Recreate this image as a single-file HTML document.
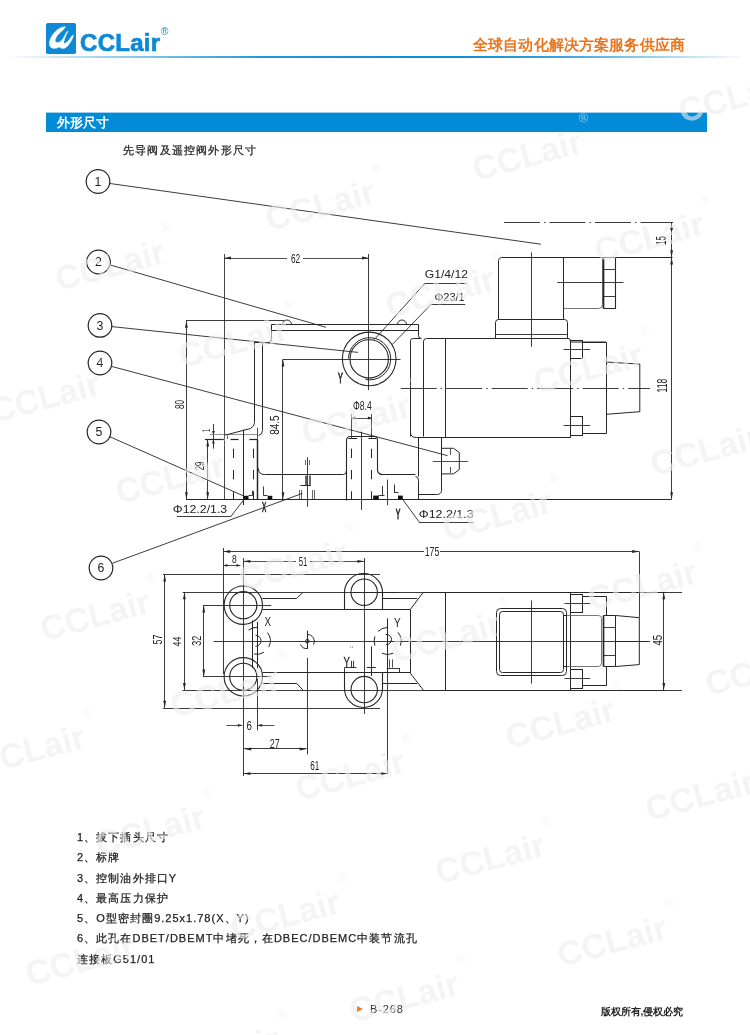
<!DOCTYPE html>
<html><head><meta charset="utf-8"><title>CCLair B-268</title>
<style>
html,body{margin:0;padding:0;background:#fff;}
body{width:750px;height:1035px;position:relative;overflow:hidden;font-family:"Liberation Sans",sans-serif;color:#333;}
.abs{position:absolute;white-space:nowrap;}
.logo{left:46.3px;top:23.1px;width:29.6px;height:30.9px;background:#0e89d6;border-radius:1.8px;}
.brand{left:79.5px;top:29px;font-size:24px;font-weight:bold;color:#0e89d6;letter-spacing:0.3px;line-height:28px;-webkit-text-stroke:0.7px #0e89d6;}
.reg{left:160.5px;top:25.5px;font-size:10px;color:#0e89d6;line-height:12px;}
.hline{left:4px;top:56px;width:744px;height:2px;background:linear-gradient(to right,rgba(10,140,215,0) 0%,rgba(10,140,215,0.35) 12%,rgba(10,140,215,0.9) 35%,rgba(10,140,215,1) 60%,rgba(10,140,215,0.8) 75%,rgba(10,140,215,0) 100%);}
.slogan{left:473px;top:36px;font-size:15px;font-weight:bold;color:#e8761e;letter-spacing:0.05px;line-height:17px;}
.bar{left:46px;top:112.6px;width:660.5px;height:19.4px;background:#038bd8;box-shadow:0 -1px 0 rgba(3,139,216,0.4);}
.bartxt{left:56.5px;top:115px;font-size:13px;font-weight:bold;color:#fff;line-height:16px;}
.sub{left:122.5px;top:143px;font-size:11px;color:#222;-webkit-text-stroke:0.25px #222;letter-spacing:1.2px;line-height:14px;}
.notes{left:76.5px;top:826.7px;font-size:11px;color:#222;-webkit-text-stroke:0.25px #222;line-height:20.25px;letter-spacing:1px;}
.notes div{height:20.25px;}
.pg{left:370.4px;top:1003px;font-size:11px;color:#333;line-height:12px;letter-spacing:0.9px;}
.tri{left:356.5px;top:1005.5px;width:0;height:0;border-left:6px solid #f07b1f;border-top:3.5px solid transparent;border-bottom:3.5px solid transparent;}
.copy{left:601px;top:1004.5px;font-size:10px;font-weight:bold;color:#222;line-height:13px;letter-spacing:-0.1px;}
.cj{display:inline-block;font-style:normal;text-align:center;}
svg{position:absolute;left:0;top:0;}
#drw,#wm{will-change:transform;}
.abs{will-change:transform;}
</style></head>
<body>

<div class="abs logo"><svg width="30" height="31" viewBox="0 0 30 31"><path fill="#fff" stroke="#fff" stroke-width="0.4" stroke-linejoin="round" d="M19.6,3.4 L15.2,4.4 L11.2,6.8 L7.6,10.4 L4.8,14.8 L3.4,18.8 L3.6,22.4 L5.2,24.8 L8,25.6 L11.2,25 L13.2,24 L13.8,24.4 L16,25.6 L18.8,25.2 L22,22.8 L24.8,18.8 L26.8,14.8 L27.6,12 L25.6,13.2 L23.2,16.8 L20.4,19.6 L18.6,20.4 L17.8,19.4 L18.6,16 L20.4,11.6 L22,8.2 L21,8.6 L19,12 L17,15.6 L14.4,18.6 L11.6,19.6 L9.4,19 L9.2,16.8 L10.8,13.2 L13.6,10 L17.2,7 Z"/></svg></div>
<div class="abs brand">CCLair</div>
<div class="abs reg">&reg;</div>
<div class="abs slogan"><i class="cj" style="width:15.15px">全</i><i class="cj" style="width:15.15px">球</i><i class="cj" style="width:15.15px">自</i><i class="cj" style="width:15.15px">动</i><i class="cj" style="width:15.15px">化</i><i class="cj" style="width:15.15px">解</i><i class="cj" style="width:15.15px">决</i><i class="cj" style="width:15.15px">方</i><i class="cj" style="width:15.15px">案</i><i class="cj" style="width:15.15px">服</i><i class="cj" style="width:15.15px">务</i><i class="cj" style="width:15.15px">供</i><i class="cj" style="width:15.15px">应</i><i class="cj" style="width:15.15px">商</i></div>
<div class="abs hline"></div>

<div class="abs bar"></div>
<div class="abs bartxt"><i class="cj" style="width:13.05px">外</i><i class="cj" style="width:13.05px">形</i><i class="cj" style="width:13.05px">尺</i><i class="cj" style="width:13.05px">寸</i></div>
<div class="abs sub"><i class="cj" style="width:12.2px">先</i><i class="cj" style="width:12.2px">导</i><i class="cj" style="width:12.2px">阀</i><i class="cj" style="width:12.2px">及</i><i class="cj" style="width:12.2px">遥</i><i class="cj" style="width:12.2px">控</i><i class="cj" style="width:12.2px">阀</i><i class="cj" style="width:12.2px">外</i><i class="cj" style="width:12.2px">形</i><i class="cj" style="width:12.2px">尺</i><i class="cj" style="width:12.2px">寸</i></div>

<svg id="drw" width="750" height="1035" viewBox="0 0 750 1035">
<circle cx="98" cy="181.5" r="11.8" fill="none" stroke="#262626" stroke-width="1.2"/>
<text x="98" y="185.8" font-size="12.3" text-anchor="middle" fill="#222" font-family="Liberation Sans" font-weight="normal">1</text>
<circle cx="98.5" cy="262" r="11.8" fill="none" stroke="#262626" stroke-width="1.2"/>
<text x="98.5" y="266.3" font-size="12.3" text-anchor="middle" fill="#222" font-family="Liberation Sans" font-weight="normal">2</text>
<circle cx="100" cy="325.4" r="11.8" fill="none" stroke="#262626" stroke-width="1.2"/>
<text x="100" y="329.7" font-size="12.3" text-anchor="middle" fill="#222" font-family="Liberation Sans" font-weight="normal">3</text>
<circle cx="100" cy="363" r="11.8" fill="none" stroke="#262626" stroke-width="1.2"/>
<text x="100" y="367.3" font-size="12.3" text-anchor="middle" fill="#222" font-family="Liberation Sans" font-weight="normal">4</text>
<circle cx="99" cy="432" r="11.8" fill="none" stroke="#262626" stroke-width="1.2"/>
<text x="99" y="436.3" font-size="12.3" text-anchor="middle" fill="#222" font-family="Liberation Sans" font-weight="normal">5</text>
<circle cx="101" cy="568" r="11.8" fill="none" stroke="#262626" stroke-width="1.2"/>
<text x="101" y="572.3" font-size="12.3" text-anchor="middle" fill="#222" font-family="Liberation Sans" font-weight="normal">6</text>
<line x1="110" y1="183.5" x2="540.8" y2="244.2" stroke="#262626" stroke-width="0.9"/>
<line x1="110.3" y1="265" x2="326" y2="327.3" stroke="#262626" stroke-width="0.9"/>
<line x1="111.8" y1="326.6" x2="358" y2="352.4" stroke="#262626" stroke-width="0.9"/>
<line x1="111.5" y1="366.4" x2="447.6" y2="455.7" stroke="#262626" stroke-width="0.9"/>
<line x1="109.5" y1="436.6" x2="243.7" y2="496" stroke="#262626" stroke-width="0.9"/>
<line x1="112.3" y1="563.3" x2="302.6" y2="493.3" stroke="#262626" stroke-width="0.9"/>
<line x1="186" y1="499.5" x2="671.5" y2="499.5" stroke="#262626" stroke-width="1.2"/>
<line x1="224" y1="258.5" x2="287" y2="258.5" stroke="#262626" stroke-width="0.8"/>
<line x1="303" y1="258.5" x2="369" y2="258.5" stroke="#262626" stroke-width="0.8"/>
<polygon points="224,258 231.00,256.60 231.00,259.40" fill="#262626"/>
<polygon points="369,258 362.00,259.40 362.00,256.60" fill="#262626"/>
<text x="295.6" y="262.7" font-size="12.4" text-anchor="middle" fill="#222" font-family="Liberation Sans" font-weight="normal" textLength="9.3" lengthAdjust="spacingAndGlyphs">62</text>
<line x1="224.5" y1="254" x2="224.5" y2="500" stroke="#333" stroke-width="0.9"/>
<line x1="368.5" y1="254" x2="368.5" y2="390" stroke="#262626" stroke-width="0.9"/>
<line x1="186" y1="320.5" x2="284" y2="320.5" stroke="#262626" stroke-width="0.9"/>
<line x1="186.5" y1="320.8" x2="186.5" y2="499.3" stroke="#262626" stroke-width="0.9"/>
<polygon points="186.4,320.8 187.80,327.80 185.00,327.80" fill="#262626"/>
<polygon points="186.4,499.3 185.00,492.30 187.80,492.30" fill="#262626"/>
<text x="184.1" y="404.6" font-size="13" text-anchor="middle" fill="#222" font-family="Liberation Sans" font-weight="normal" textLength="9" lengthAdjust="spacingAndGlyphs" transform="rotate(-90 184.1 404.6)">80</text>
<line x1="283" y1="359.5" x2="400.5" y2="359.5" stroke="#262626" stroke-width="0.9"/>
<line x1="282.5" y1="359.4" x2="282.5" y2="499.3" stroke="#262626" stroke-width="0.9"/>
<polygon points="283,359.4 284.40,366.40 281.60,366.40" fill="#262626"/>
<polygon points="283,499.3 281.60,492.30 284.40,492.30" fill="#262626"/>
<text x="278.9" y="425.1" font-size="13" text-anchor="middle" fill="#222" font-family="Liberation Sans" font-weight="normal" textLength="19.5" lengthAdjust="spacingAndGlyphs" transform="rotate(-90 278.9 425.1)">84.5</text>
<line x1="207.5" y1="439.6" x2="207.5" y2="499.3" stroke="#262626" stroke-width="0.9"/>
<polygon points="207.7,439.6 209.10,446.60 206.30,446.60" fill="#262626"/>
<polygon points="207.7,499.3 206.30,492.30 209.10,492.30" fill="#262626"/>
<text x="204.3" y="466" font-size="13" text-anchor="middle" fill="#222" font-family="Liberation Sans" font-weight="normal" textLength="8.7" lengthAdjust="spacingAndGlyphs" transform="rotate(-90 204.3 466)">29</text>
<line x1="213.5" y1="424" x2="213.5" y2="448.7" stroke="#262626" stroke-width="0.9"/>
<polygon points="213.4,435 212.00,431.00 214.80,431.00" fill="#262626"/>
<polygon points="213.4,439.4 214.80,443.40 212.00,443.40" fill="#262626"/>
<text x="210" y="430.5" font-size="10.5" text-anchor="middle" fill="#222" font-family="Liberation Sans" font-weight="normal" textLength="3" lengthAdjust="spacingAndGlyphs" transform="rotate(-90 210 430.5)">1</text>
<line x1="210" y1="434.5" x2="257.4" y2="434.5" stroke="#777" stroke-width="0.8"/>
<line x1="205" y1="439.5" x2="225" y2="439.5" stroke="#262626" stroke-width="1.2"/>
<line x1="230.2" y1="439.5" x2="238.6" y2="439.5" stroke="#262626" stroke-width="1.2"/>
<line x1="249.4" y1="439.5" x2="257.4" y2="439.5" stroke="#262626" stroke-width="1.2"/>
<path d="M 254.5,342.5 L 254.5,422.5 Q 254.5,426.5 250.5,428.5 L 227.5,434.5 Q 224.5,434.5 224.5,435.5" fill="none" stroke="#262626" stroke-width="1.0"/>
<line x1="227.5" y1="435.4" x2="227.5" y2="439" stroke="#262626" stroke-width="0.9"/>
<line x1="243.5" y1="429.6" x2="243.5" y2="505" stroke="#262626" stroke-width="1.0"/>
<line x1="257.5" y1="427.8" x2="257.5" y2="439.4" stroke="#262626" stroke-width="0.8"/>
<line x1="257.5" y1="439.4" x2="257.5" y2="499.6" stroke="#262626" stroke-width="1.5"/>
<path d="M 262.5,342.5 L 262.5,430.5 Q 262.5,434.5 258.5,435.5" fill="none" stroke="#262626" stroke-width="1.0"/>
<line x1="254.4" y1="342.5" x2="269" y2="342.5" stroke="#262626" stroke-width="1.0"/>
<line x1="233.5" y1="448.7" x2="233.5" y2="500" stroke="#262626" stroke-width="1.0" stroke-dasharray="9.3 12"/>
<line x1="253.5" y1="448.7" x2="253.5" y2="500" stroke="#262626" stroke-width="1.0" stroke-dasharray="9.3 12"/>
<path d="M 258.5,468.5 Q 258.5,474.5 264.5,474.5 L 343.5,474.5 Q 346.5,474.5 346.5,470.5" fill="none" stroke="#262626" stroke-width="1.0"/>
<path d="M 268.5,342.5 Q 271.5,342.5 271.5,338.5 L 271.5,324.5 L 418.5,324.5 L 418.5,335.5 Q 418.5,338.5 421.5,338.5" fill="none" stroke="#262626" stroke-width="1.0"/>
<line x1="272" y1="330.5" x2="418.5" y2="330.5" stroke="#262626" stroke-width="1.0"/>
<path d="M 282.5,324.5 A 4.5,4.5 0 0 1 291.5,324.5" fill="none" stroke="#262626" stroke-width="1.0"/>
<path d="M 397.5,324.5 A 4.5,4.5 0 0 1 406.5,324.5" fill="none" stroke="#262626" stroke-width="1.0"/>
<circle cx="369.2" cy="358.9" r="26.8" fill="none" stroke="#262626" stroke-width="1.1"/>
<circle cx="369.2" cy="358.9" r="19.2" fill="none" stroke="#262626" stroke-width="1.1"/>
<path d="M 365.5,379.5 A 21.1,21.1 0 1 0 348.5,358.5" fill="none" stroke="#262626" stroke-width="1.0"/>
<text x="340.4" y="382.6" font-size="15" text-anchor="middle" fill="#222" font-family="Liberation Sans" font-weight="normal" stroke="#222" stroke-width="0.9" textLength="4.8" lengthAdjust="spacingAndGlyphs">Y</text>
<text x="424.8" y="277.6" font-size="11.4" text-anchor="start" fill="#222" font-family="Liberation Sans" font-weight="normal" textLength="43.2" lengthAdjust="spacingAndGlyphs">G1/4/12</text>
<line x1="424.8" y1="283.5" x2="466.4" y2="283.5" stroke="#262626" stroke-width="0.9"/>
<line x1="424.8" y1="283.5" x2="374.3" y2="339.6" stroke="#262626" stroke-width="0.9"/>
<text x="434.4" y="300.5" font-size="11.4" text-anchor="start" fill="#222" font-family="Liberation Sans" font-weight="normal" textLength="30.4" lengthAdjust="spacingAndGlyphs">Φ23/1</text>
<line x1="430.4" y1="304.5" x2="465.3" y2="304.5" stroke="#262626" stroke-width="0.9"/>
<line x1="430.4" y1="305" x2="392.4" y2="344.4" stroke="#262626" stroke-width="0.9"/>
<path d="M 346.5,500.5 L 346.5,440.5 Q 346.5,436.5 350.5,436.5 L 374.5,436.5 Q 377.5,436.5 377.5,440.5 L 377.5,470.5 Q 378.5,474.5 382.5,474.5 L 415.5,474.5" fill="none" stroke="#262626" stroke-width="1.1"/>
<line x1="348.4" y1="438.5" x2="357.2" y2="438.5" stroke="#262626" stroke-width="1.0"/>
<line x1="368.4" y1="438.5" x2="376.4" y2="438.5" stroke="#262626" stroke-width="1.0"/>
<line x1="351.5" y1="448.7" x2="351.5" y2="500" stroke="#262626" stroke-width="1.0" stroke-dasharray="9.3 12"/>
<line x1="371.5" y1="448.7" x2="371.5" y2="500" stroke="#262626" stroke-width="1.0" stroke-dasharray="9.3 12"/>
<line x1="361.5" y1="431.6" x2="361.5" y2="510" stroke="#262626" stroke-width="0.9"/>
<text x="362.3" y="410.4" font-size="12" text-anchor="middle" fill="#222" font-family="Liberation Sans" font-weight="normal" textLength="18.7" lengthAdjust="spacingAndGlyphs">Φ8.4</text>
<line x1="351.5" y1="414" x2="351.5" y2="438" stroke="#262626" stroke-width="0.8"/>
<line x1="371.5" y1="414" x2="371.5" y2="438" stroke="#262626" stroke-width="0.8"/>
<line x1="351.6" y1="418.5" x2="371.9" y2="418.5" stroke="#262626" stroke-width="0.8"/>
<polygon points="371.9,418 367.90,419.40 367.90,416.60" fill="#262626"/>
<polygon points="351.6,418 355.60,416.60 355.60,419.40" fill="#262626"/>
<path d="M 415.5,476.5 Q 418.5,476.5 418.5,480.5 L 418.5,499.5" fill="none" stroke="#262626" stroke-width="1.0"/>
<path d="M 418.5,437.5 L 418.5,476.5 M 418.5,437.5 L 441.5,437.5 L 441.5,490.5 Q 441.5,494.5 436.5,494.5 L 418.5,494.5" fill="none" stroke="#262626" stroke-width="1.0"/>
<polyline points="441.2,448.3 453.5,448.3 459.3,452.5 459.3,469.6 453.5,473.9 441.2,473.9" fill="none" stroke="#262626" stroke-width="1.0"/>
<line x1="450.5" y1="449" x2="450.5" y2="455" stroke="#262626" stroke-width="0.8"/>
<line x1="450.5" y1="467" x2="450.5" y2="473" stroke="#262626" stroke-width="0.8"/>
<line x1="432.7" y1="461.5" x2="467.9" y2="461.5" stroke="#262626" stroke-width="0.8"/>
<path d="M 410.5,436.5 L 410.5,340.5 Q 410.5,338.5 413.5,338.5 L 420.5,338.5" fill="none" stroke="#262626" stroke-width="1.0"/>
<path d="M 423.5,436.5 L 423.5,341.5 Q 423.5,338.5 426.5,338.5 L 569.5,338.5" fill="none" stroke="#262626" stroke-width="1.0"/>
<line x1="445.5" y1="339" x2="445.5" y2="437.6" stroke="#262626" stroke-width="1.0"/>
<path d="M 410.5,432.5 Q 410.5,437.5 416.5,437.5 L 570.5,437.5" fill="none" stroke="#262626" stroke-width="1.0"/>
<line x1="570.5" y1="339.6" x2="570.5" y2="437.7" stroke="#262626" stroke-width="1.0"/>
<line x1="400.7" y1="388.5" x2="650" y2="388.5" stroke="#262626" stroke-width="0.9" stroke-dasharray="36 4 1.5 4"/>
<rect x="570.5" y="340.5" width="12.0" height="18.0" rx="0" fill="none" stroke="#262626" stroke-width="1.0"/>
<line x1="563.5" y1="349.5" x2="590.1" y2="349.5" stroke="#262626" stroke-width="0.9"/>
<rect x="570.5" y="416.5" width="12.0" height="19.0" rx="0" fill="none" stroke="#262626" stroke-width="1.0"/>
<line x1="563.5" y1="425.5" x2="590.1" y2="425.5" stroke="#262626" stroke-width="0.9"/>
<polyline points="582.5,342.5 606.5,342.5 606.5,433.5 582.5,433.5" fill="none" stroke="#262626" stroke-width="1.0"/>
<polyline points="606.1,362 639.8,364.1 639.8,411.7 606.1,414.3" fill="none" stroke="#262626" stroke-width="1.0"/>
<path d="M 498.5,319.5 L 498.5,260.5 Q 498.5,257.5 501.5,257.5 L 672.5,257.5" fill="none" stroke="#262626" stroke-width="1.0"/>
<line x1="563.5" y1="257.3" x2="563.5" y2="319.6" stroke="#262626" stroke-width="1.0"/>
<path d="M 563.5,308.5 L 598.5,308.5 Q 602.5,308.5 602.5,304.5 L 602.5,257.5" fill="none" stroke="#666" stroke-width="0.9"/>
<line x1="603.5" y1="257.3" x2="603.5" y2="308.7" stroke="#262626" stroke-width="1.7"/>
<line x1="615.5" y1="257.3" x2="615.5" y2="308.7" stroke="#262626" stroke-width="1.1"/>
<line x1="603.5" y1="308.5" x2="615.6" y2="308.5" stroke="#262626" stroke-width="1.0"/>
<line x1="603.5" y1="269.5" x2="615.6" y2="269.5" stroke="#262626" stroke-width="0.9"/>
<line x1="603.5" y1="296.5" x2="615.6" y2="296.5" stroke="#262626" stroke-width="0.9"/>
<line x1="557.2" y1="282.5" x2="623.5" y2="282.5" stroke="#262626" stroke-width="0.9"/>
<line x1="531.5" y1="252.4" x2="531.5" y2="346.9" stroke="#262626" stroke-width="0.9"/>
<path d="M 495.5,338.5 L 495.5,322.5 Q 495.5,319.5 498.5,319.5 L 564.5,319.5 Q 567.5,319.5 567.5,322.5 L 567.5,338.5" fill="none" stroke="#262626" stroke-width="1.0"/>
<line x1="495.4" y1="334.5" x2="567.5" y2="334.5" stroke="#262626" stroke-width="0.9"/>
<polyline points="569.6,339.2 570.7,342 605.9,342 605.9,343" fill="none" stroke="#262626" stroke-width="1.0"/>
<line x1="504" y1="222.5" x2="673" y2="222.5" stroke="#262626" stroke-width="0.9" stroke-dasharray="36 4 1.5 4"/>
<line x1="671.5" y1="223" x2="671.5" y2="257.3" stroke="#262626" stroke-width="0.9"/>
<polygon points="671.6,223 673.00,230.00 670.20,230.00" fill="#262626"/>
<polygon points="671.6,257.3 670.20,250.30 673.00,250.30" fill="#262626"/>
<text x="666" y="240.6" font-size="13.8" text-anchor="middle" fill="#222" font-family="Liberation Sans" font-weight="normal" textLength="8.8" lengthAdjust="spacingAndGlyphs" transform="rotate(-90 666 240.6)">15</text>
<line x1="671.5" y1="257.6" x2="671.5" y2="499.3" stroke="#262626" stroke-width="0.9"/>
<polygon points="671.6,257.6 673.00,264.60 670.20,264.60" fill="#262626"/>
<polygon points="671.6,499.3 670.20,492.30 673.00,492.30" fill="#262626"/>
<text x="667.2" y="385.6" font-size="14" text-anchor="middle" fill="#222" font-family="Liberation Sans" font-weight="normal" textLength="13.6" lengthAdjust="spacingAndGlyphs" transform="rotate(-90 667.2 385.6)">118</text>
<rect x="243.7" y="495.8" width="4.8" height="4" fill="#111"/>
<rect x="267.7" y="495.8" width="4.6" height="4" fill="#111"/>
<polyline points="248.5,495.5 252.5,495.5 252.5,490.5" fill="none" stroke="#262626" stroke-width="0.9"/>
<polyline points="263.5,486.5 263.5,495.5 267.5,495.5" fill="none" stroke="#262626" stroke-width="0.9"/>
<rect x="373.2" y="495.6" width="5.6" height="4.2" fill="#111"/>
<polyline points="378.5,495.5 384.5,495.5" fill="none" stroke="#262626" stroke-width="0.9"/>
<line x1="382.5" y1="486" x2="382.5" y2="495.6" stroke="#262626" stroke-width="0.9"/>
<rect x="398" y="495.6" width="4.8" height="4.2" fill="#111"/>
<polyline points="394.5,486.5 394.5,492.5 398.5,492.5" fill="none" stroke="#262626" stroke-width="0.9"/>
<line x1="387.5" y1="479.6" x2="387.5" y2="505.2" stroke="#262626" stroke-width="0.9"/>
<line x1="307.5" y1="457.2" x2="307.5" y2="506.8" stroke="#262626" stroke-width="0.9"/>
<line x1="300.4" y1="485.5" x2="310.8" y2="485.5" stroke="#262626" stroke-width="1.0"/>
<line x1="305.5" y1="475.6" x2="305.5" y2="485.2" stroke="#262626" stroke-width="0.7"/>
<line x1="306.5" y1="475.6" x2="306.5" y2="485.2" stroke="#262626" stroke-width="0.7"/>
<line x1="309.5" y1="475.6" x2="309.5" y2="485.2" stroke="#262626" stroke-width="0.7"/>
<line x1="310.5" y1="475.6" x2="310.5" y2="485.2" stroke="#262626" stroke-width="0.7"/>
<line x1="305.5" y1="460" x2="305.5" y2="465" stroke="#262626" stroke-width="0.7"/>
<line x1="309.5" y1="460" x2="309.5" y2="465" stroke="#262626" stroke-width="0.7"/>
<line x1="299.5" y1="490" x2="299.5" y2="499.6" stroke="#262626" stroke-width="0.7"/>
<line x1="301.5" y1="490" x2="301.5" y2="499.6" stroke="#262626" stroke-width="0.7"/>
<line x1="312.5" y1="490" x2="312.5" y2="499.6" stroke="#262626" stroke-width="0.7"/>
<line x1="314.5" y1="490" x2="314.5" y2="499.6" stroke="#262626" stroke-width="0.7"/>
<text x="172.8" y="512.6" font-size="10.5" text-anchor="start" fill="#222" font-family="Liberation Sans" font-weight="normal" textLength="54.4" lengthAdjust="spacingAndGlyphs">Φ12.2/1.3</text>
<line x1="177" y1="516.5" x2="230.5" y2="516.5" stroke="#262626" stroke-width="0.9"/>
<line x1="230.5" y1="516.9" x2="243.9" y2="499.6" stroke="#262626" stroke-width="0.9"/>
<text x="264.2" y="511.7" font-size="15" text-anchor="middle" fill="#222" font-family="Liberation Sans" font-weight="normal" stroke="#222" stroke-width="0.7" textLength="4.3" lengthAdjust="spacingAndGlyphs">X</text>
<text x="418.8" y="518.2" font-size="11" text-anchor="start" fill="#222" font-family="Liberation Sans" font-weight="normal" textLength="54.8" lengthAdjust="spacingAndGlyphs">Φ12.2/1.3</text>
<line x1="419.9" y1="522.5" x2="473.2" y2="522.5" stroke="#262626" stroke-width="0.9"/>
<line x1="419.9" y1="523" x2="402.8" y2="499.6" stroke="#262626" stroke-width="0.9"/>
<line x1="394.5" y1="484.5" x2="394.5" y2="493" stroke="#262626" stroke-width="0.9"/>
<text x="398" y="518.5" font-size="14" text-anchor="middle" fill="#222" font-family="Liberation Sans" font-weight="normal" stroke="#222" stroke-width="0.8" textLength="4.6" lengthAdjust="spacingAndGlyphs">Y</text>
<line x1="223.2" y1="551.5" x2="424" y2="551.5" stroke="#262626" stroke-width="0.9"/>
<line x1="440" y1="551.5" x2="639.2" y2="551.5" stroke="#262626" stroke-width="0.9"/>
<polygon points="223.2,551.5 230.20,550.10 230.20,552.90" fill="#262626"/>
<polygon points="639.2,551.5 632.20,552.90 632.20,550.10" fill="#262626"/>
<text x="432" y="555.7" font-size="12.4" text-anchor="middle" fill="#222" font-family="Liberation Sans" font-weight="normal" textLength="14.6" lengthAdjust="spacingAndGlyphs">175</text>
<line x1="639.5" y1="551.5" x2="639.5" y2="617.6" stroke="#262626" stroke-width="0.9"/>
<line x1="223.5" y1="548" x2="223.5" y2="674" stroke="#262626" stroke-width="0.9"/>
<line x1="223.4" y1="565.5" x2="240.5" y2="565.5" stroke="#262626" stroke-width="0.8"/>
<polygon points="223.4,565.4 227.40,564.00 227.40,566.80" fill="#262626"/>
<polygon points="240.5,565.4 236.50,566.80 236.50,564.00" fill="#262626"/>
<text x="234.3" y="563" font-size="10.5" text-anchor="middle" fill="#222" font-family="Liberation Sans" font-weight="normal" textLength="4.7" lengthAdjust="spacingAndGlyphs">8</text>
<line x1="243.3" y1="561.5" x2="296" y2="561.5" stroke="#262626" stroke-width="0.8"/>
<line x1="310" y1="561.5" x2="364.4" y2="561.5" stroke="#262626" stroke-width="0.8"/>
<polygon points="243.3,561.3 250.30,559.90 250.30,562.70" fill="#262626"/>
<polygon points="364.4,561.3 357.40,562.70 357.40,559.90" fill="#262626"/>
<text x="303" y="566.3" font-size="12.3" text-anchor="middle" fill="#222" font-family="Liberation Sans" font-weight="normal" textLength="8.6" lengthAdjust="spacingAndGlyphs">51</text>
<line x1="243.5" y1="558" x2="243.5" y2="776" stroke="#262626" stroke-width="0.9"/>
<line x1="364.5" y1="558" x2="364.5" y2="714" stroke="#262626" stroke-width="0.9"/>
<line x1="163" y1="574.5" x2="380" y2="574.5" stroke="#262626" stroke-width="0.9"/>
<line x1="163" y1="708.5" x2="380" y2="708.5" stroke="#262626" stroke-width="0.9"/>
<line x1="164.5" y1="574.4" x2="164.5" y2="707.8" stroke="#262626" stroke-width="0.9"/>
<polygon points="164.7,574.4 166.10,581.40 163.30,581.40" fill="#262626"/>
<polygon points="164.7,707.8 163.30,700.80 166.10,700.80" fill="#262626"/>
<text x="162.4" y="639.6" font-size="13.5" text-anchor="middle" fill="#222" font-family="Liberation Sans" font-weight="normal" textLength="10" lengthAdjust="spacingAndGlyphs" transform="rotate(-90 162.4 639.6)">57</text>
<line x1="182.5" y1="592.5" x2="682" y2="592.5" stroke="#262626" stroke-width="0.9"/>
<line x1="184.5" y1="592.2" x2="184.5" y2="690" stroke="#262626" stroke-width="0.9"/>
<polygon points="184.4,592.2 185.80,599.20 183.00,599.20" fill="#262626"/>
<polygon points="184.4,690 183.00,683.00 185.80,683.00" fill="#262626"/>
<text x="180.8" y="641.6" font-size="11.5" text-anchor="middle" fill="#222" font-family="Liberation Sans" font-weight="normal" textLength="10" lengthAdjust="spacingAndGlyphs" transform="rotate(-90 180.8 641.6)">44</text>
<line x1="182.5" y1="690.5" x2="682" y2="690.5" stroke="#262626" stroke-width="0.9"/>
<line x1="203" y1="605.5" x2="271.2" y2="605.5" stroke="#262626" stroke-width="0.9"/>
<line x1="203" y1="676.5" x2="271.2" y2="676.5" stroke="#262626" stroke-width="0.9"/>
<line x1="203.5" y1="605.4" x2="203.5" y2="676.6" stroke="#262626" stroke-width="0.9"/>
<polygon points="203.8,605.4 205.20,612.40 202.40,612.40" fill="#262626"/>
<polygon points="203.8,676.6 202.40,669.60 205.20,669.60" fill="#262626"/>
<text x="201.2" y="640.8" font-size="12.5" text-anchor="middle" fill="#222" font-family="Liberation Sans" font-weight="normal" textLength="10" lengthAdjust="spacingAndGlyphs" transform="rotate(-90 201.2 640.8)">32</text>
<circle cx="243.3" cy="605.2" r="19.2" fill="none" stroke="#262626" stroke-width="1.1"/>
<circle cx="243.3" cy="605.2" r="13.6" fill="none" stroke="#262626" stroke-width="1.1"/>
<circle cx="243.3" cy="676.8" r="19.2" fill="none" stroke="#262626" stroke-width="1.1"/>
<circle cx="243.3" cy="676.8" r="13.6" fill="none" stroke="#262626" stroke-width="1.1"/>
<path d="M 344.5,609.5 L 344.5,592.5 A 19,19 0 0 1 382.5,592.5 L 382.5,609.5" fill="none" stroke="#262626" stroke-width="1.1"/>
<circle cx="364.2" cy="592.2" r="13.2" fill="none" stroke="#262626" stroke-width="1.1"/>
<path d="M 344.5,672.5 L 344.5,688.5 A 19,19 0 0 0 382.5,688.5 L 382.5,672.5" fill="none" stroke="#262626" stroke-width="1.1"/>
<circle cx="364.2" cy="689.6" r="13.2" fill="none" stroke="#262626" stroke-width="1.1"/>
<line x1="350" y1="592.5" x2="398" y2="592.5" stroke="#262626" stroke-width="0.9"/>
<line x1="262.4" y1="598.5" x2="296.8" y2="598.5" stroke="#262626" stroke-width="1.0"/>
<line x1="296.8" y1="598.4" x2="303.2" y2="592" stroke="#262626" stroke-width="1.0"/>
<line x1="262.4" y1="683.5" x2="296.8" y2="683.5" stroke="#262626" stroke-width="1.0"/>
<line x1="296.8" y1="683.6" x2="303.2" y2="690.3" stroke="#262626" stroke-width="1.0"/>
<line x1="262.4" y1="609.5" x2="410" y2="609.5" stroke="#262626" stroke-width="1.0"/>
<line x1="262.4" y1="672.5" x2="410" y2="672.5" stroke="#262626" stroke-width="1.0"/>
<line x1="383" y1="598.5" x2="417.2" y2="598.5" stroke="#262626" stroke-width="1.0"/>
<line x1="383" y1="683.5" x2="417.2" y2="683.5" stroke="#262626" stroke-width="1.0"/>
<line x1="410" y1="609.8" x2="423.5" y2="592" stroke="#262626" stroke-width="1.0"/>
<line x1="410" y1="672.8" x2="423.5" y2="690.3" stroke="#262626" stroke-width="1.0"/>
<line x1="410.5" y1="609.8" x2="410.5" y2="672.8" stroke="#262626" stroke-width="1.0"/>
<line x1="445.5" y1="592" x2="445.5" y2="690.3" stroke="#262626" stroke-width="1.0"/>
<line x1="213.6" y1="641.5" x2="650" y2="641.5" stroke="#262626" stroke-width="0.9"/>
<line x1="252.5" y1="620.4" x2="252.5" y2="668" stroke="#262626" stroke-width="1.0"/>
<line x1="257.5" y1="622" x2="257.5" y2="668" stroke="#262626" stroke-width="1.0"/>
<path d="M255.50,635.30 A5.5,5.5 0 0 1 255.50,646.30" fill="none" stroke="#262626" stroke-width="1.0"/>
<path d="M248.49,630.16 A13.5,13.5 0 0 1 257.27,627.31" fill="none" stroke="#262626" stroke-width="1.0"/>
<path d="M267.44,632.49 A13.5,13.5 0 0 1 268.72,647.14" fill="none" stroke="#262626" stroke-width="1.0"/>
<path d="M263.95,652.25 A13.5,13.5 0 0 1 253.99,654.00" fill="none" stroke="#262626" stroke-width="1.0"/>
<text x="267.7" y="626" font-size="12.5" text-anchor="middle" fill="#222" font-family="Liberation Sans" font-weight="normal" textLength="6.5" lengthAdjust="spacingAndGlyphs">X</text>
<line x1="387.5" y1="618.4" x2="387.5" y2="668.8" stroke="#262626" stroke-width="1.0"/>
<path d="M385.63,634.58 A5,5 0 1 1 386.06,644.48" fill="none" stroke="#262626" stroke-width="1.0"/>
<path d="M378.05,631.45 A13.5,13.5 0 0 1 387.13,627.51" fill="none" stroke="#262626" stroke-width="1.0"/>
<path d="M397.94,632.32 A13.5,13.5 0 0 1 400.29,645.62" fill="none" stroke="#262626" stroke-width="1.0"/>
<path d="M374.91,645.62 A13.5,13.5 0 0 1 374.91,636.38" fill="none" stroke="#262626" stroke-width="1.0"/>
<path d="M393.31,653.24 A13.5,13.5 0 0 1 381.89,653.24" fill="none" stroke="#262626" stroke-width="1.0"/>
<text x="397.3" y="627.3" font-size="12.5" text-anchor="middle" fill="#222" font-family="Liberation Sans" font-weight="normal" textLength="6.7" lengthAdjust="spacingAndGlyphs">Y</text>
<rect x="387.5" y="668.5" width="12.0" height="4.0" rx="0" fill="none" stroke="#262626" stroke-width="0.9"/>
<line x1="389.5" y1="659.4" x2="389.5" y2="667.6" stroke="#262626" stroke-width="0.8"/>
<line x1="392.5" y1="659.4" x2="392.5" y2="667.6" stroke="#262626" stroke-width="0.8"/>
<text x="346.6" y="667" font-size="15" text-anchor="middle" fill="#222" font-family="Liberation Sans" font-weight="normal" stroke="#222" stroke-width="0.3" textLength="6.4" lengthAdjust="spacingAndGlyphs">Y</text>
<line x1="351.5" y1="660.8" x2="351.5" y2="667.2" stroke="#262626" stroke-width="0.9"/>
<line x1="353.5" y1="660.8" x2="353.5" y2="667.2" stroke="#262626" stroke-width="0.9"/>
<line x1="350.2" y1="667.5" x2="354.6" y2="667.5" stroke="#262626" stroke-width="0.9"/>
<polyline points="344.5,672.5 344.5,667.5 356.5,667.5" fill="none" stroke="#262626" stroke-width="0.9"/>
<rect x="350.2" y="646.6" width="0.9" height="0.9" fill="#444"/>
<rect x="352" y="646.6" width="0.9" height="0.9" fill="#444"/>
<line x1="371.5" y1="646.5" x2="371.5" y2="676" stroke="#262626" stroke-width="1.0"/>
<line x1="366.8" y1="667.5" x2="375.8" y2="667.5" stroke="#262626" stroke-width="1.0"/>
<line x1="307.5" y1="630.6" x2="307.5" y2="648.8" stroke="#262626" stroke-width="1.0"/>
<circle cx="307.3" cy="641.2" r="1.8" fill="none" stroke="#262626" stroke-width="1.0"/>
<path d="M 307.5,634.5 A 6.8,6.8 0 0 1 313.5,644.5 M 300.5,644.5 A 6.8,6.8 0 0 0 307.5,648.5" fill="none" stroke="#262626" stroke-width="1.0"/>
<line x1="307.5" y1="657.8" x2="307.5" y2="754.4" stroke="#262626" stroke-width="0.9"/>
<line x1="423.5" y1="592.5" x2="571" y2="592.5" stroke="#262626" stroke-width="1.1"/>
<line x1="423.5" y1="690.5" x2="571" y2="690.5" stroke="#262626" stroke-width="1.1"/>
<line x1="570.5" y1="592" x2="570.5" y2="690.3" stroke="#262626" stroke-width="1.0"/>
<line x1="571" y1="592.5" x2="665.9" y2="592.5" stroke="#262626" stroke-width="0.9"/>
<line x1="571" y1="690.5" x2="665.9" y2="690.5" stroke="#262626" stroke-width="0.9"/>
<rect x="496.5" y="608.5" width="70.0" height="67.0" rx="4" fill="none" stroke="#262626" stroke-width="1.0"/>
<rect x="499.5" y="611.5" width="64.0" height="61.0" rx="3" fill="none" stroke="#262626" stroke-width="1.0"/>
<line x1="531.5" y1="600.5" x2="531.5" y2="683.7" stroke="#262626" stroke-width="0.9"/>
<rect x="570.5" y="594.5" width="12.0" height="18.0" rx="0" fill="none" stroke="#262626" stroke-width="1.0"/>
<line x1="564.5" y1="603.5" x2="590.1" y2="603.5" stroke="#262626" stroke-width="0.9"/>
<rect x="570.5" y="669.5" width="12.0" height="19.0" rx="0" fill="none" stroke="#262626" stroke-width="1.0"/>
<line x1="564.5" y1="678.5" x2="590.1" y2="678.5" stroke="#262626" stroke-width="0.9"/>
<polyline points="582.5,596.5 606.5,596.5 606.5,615.5" fill="none" stroke="#262626" stroke-width="1.0"/>
<polyline points="582.5,685.5 606.5,685.5 606.5,666.5" fill="none" stroke="#262626" stroke-width="1.0"/>
<path d="M 566.5,615.5 L 598.5,615.5 Q 601.5,615.5 601.5,618.5 L 601.5,662.5 Q 601.5,666.5 598.5,666.5 L 566.5,666.5" fill="none" stroke="#666" stroke-width="0.9"/>
<line x1="563.5" y1="615.5" x2="566.7" y2="615.5" stroke="#262626" stroke-width="1.0"/>
<line x1="563.5" y1="666.5" x2="566.7" y2="666.5" stroke="#262626" stroke-width="1.0"/>
<line x1="603.5" y1="615.5" x2="603.5" y2="666.5" stroke="#262626" stroke-width="1.7"/>
<polyline points="603.5,615.5 615.5,615.5 615.5,666.5 603.5,666.5" fill="none" stroke="#262626" stroke-width="1.0"/>
<line x1="603.6" y1="627.5" x2="615.7" y2="627.5" stroke="#262626" stroke-width="0.9"/>
<line x1="603.6" y1="655.5" x2="615.7" y2="655.5" stroke="#262626" stroke-width="0.9"/>
<polyline points="615.7,615.5 639.3,617.7 639.3,664.6 615.7,666.5" fill="none" stroke="#262626" stroke-width="1.0"/>
<line x1="614.7" y1="641.5" x2="647.7" y2="641.5" stroke="#262626" stroke-width="0.9"/>
<line x1="663.5" y1="592.3" x2="663.5" y2="690" stroke="#262626" stroke-width="0.9"/>
<polygon points="663.8,592.3 665.20,599.30 662.40,599.30" fill="#262626"/>
<polygon points="663.8,690 662.40,683.00 665.20,683.00" fill="#262626"/>
<text x="661.8" y="640.2" font-size="13.3" text-anchor="middle" fill="#222" font-family="Liberation Sans" font-weight="normal" textLength="10.8" lengthAdjust="spacingAndGlyphs" transform="rotate(-90 661.8 640.2)">45</text>
<line x1="257.5" y1="679" x2="257.5" y2="730.4" stroke="#262626" stroke-width="0.9"/>
<line x1="226.4" y1="725.5" x2="242.4" y2="725.5" stroke="#262626" stroke-width="0.8"/>
<polygon points="242.4,725.3 237.90,726.70 237.90,723.90" fill="#262626"/>
<line x1="274.4" y1="725.5" x2="257.6" y2="725.5" stroke="#262626" stroke-width="0.8"/>
<polygon points="257.6,725.3 262.10,723.90 262.10,726.70" fill="#262626"/>
<text x="249.3" y="730" font-size="12" text-anchor="middle" fill="#222" font-family="Liberation Sans" font-weight="normal" textLength="5.4" lengthAdjust="spacingAndGlyphs">6</text>
<line x1="244.2" y1="748.5" x2="306.6" y2="748.5" stroke="#262626" stroke-width="0.9"/>
<polygon points="244.2,749 251.20,747.60 251.20,750.40" fill="#262626"/>
<polygon points="306.6,749 299.60,750.40 299.60,747.60" fill="#262626"/>
<text x="274.7" y="748.4" font-size="13.5" text-anchor="middle" fill="#222" font-family="Liberation Sans" font-weight="normal" textLength="9.8" lengthAdjust="spacingAndGlyphs">27</text>
<line x1="243.3" y1="773.5" x2="387.7" y2="773.5" stroke="#262626" stroke-width="0.9"/>
<polygon points="243.3,773.6 250.30,772.20 250.30,775.00" fill="#262626"/>
<polygon points="387.7,773.6 380.70,775.00 380.70,772.20" fill="#262626"/>
<line x1="387.5" y1="668.8" x2="387.5" y2="773.6" stroke="#262626" stroke-width="0.9"/>
<text x="314.7" y="770.2" font-size="12" text-anchor="middle" fill="#222" font-family="Liberation Sans" font-weight="normal" textLength="9" lengthAdjust="spacingAndGlyphs">61</text>
</svg>

<div class="abs notes">
<div>1<i class="cj" style="width:12.1px">、</i><i class="cj" style="width:12.1px">拔</i><i class="cj" style="width:12.1px">下</i><i class="cj" style="width:12.1px">插</i><i class="cj" style="width:12.1px">头</i><i class="cj" style="width:12.1px">尺</i><i class="cj" style="width:12.1px">寸</i></div>
<div>2<i class="cj" style="width:12.1px">、</i><i class="cj" style="width:12.1px">标</i><i class="cj" style="width:12.1px">牌</i></div>
<div>3<i class="cj" style="width:12.1px">、</i><i class="cj" style="width:12.1px">控</i><i class="cj" style="width:12.1px">制</i><i class="cj" style="width:12.1px">油</i><i class="cj" style="width:12.1px">外</i><i class="cj" style="width:12.1px">排</i><i class="cj" style="width:12.1px">口</i>Y</div>
<div>4<i class="cj" style="width:12.1px">、</i><i class="cj" style="width:12.1px">最</i><i class="cj" style="width:12.1px">高</i><i class="cj" style="width:12.1px">压</i><i class="cj" style="width:12.1px">力</i><i class="cj" style="width:12.1px">保</i><i class="cj" style="width:12.1px">护</i></div>
<div>5<i class="cj" style="width:12.1px">、</i>O<i class="cj" style="width:12.1px">型</i><i class="cj" style="width:12.1px">密</i><i class="cj" style="width:12.1px">封</i><i class="cj" style="width:12.1px">圈</i>9.25x1.78(X<i class="cj" style="width:12.1px">、</i>Y)</div>
<div>6<i class="cj" style="width:12.1px">、</i><i class="cj" style="width:12.1px">此</i><i class="cj" style="width:12.1px">孔</i><i class="cj" style="width:12.1px">在</i>DBET/DBEMT<i class="cj" style="width:12.1px">中</i><i class="cj" style="width:12.1px">堵</i><i class="cj" style="width:12.1px">死</i><i class="cj" style="width:12.1px">，</i><i class="cj" style="width:12.1px">在</i>DBEC/DBEMC<i class="cj" style="width:12.1px">中</i><i class="cj" style="width:12.1px">装</i><i class="cj" style="width:12.1px">节</i><i class="cj" style="width:12.1px">流</i><i class="cj" style="width:12.1px">孔</i></div>
<div><i class="cj" style="width:12.1px">连</i><i class="cj" style="width:12.1px">接</i><i class="cj" style="width:12.1px">板</i>G51/01</div>
</div>

<div class="abs tri"></div>
<div class="abs pg">B-268</div>
<div class="abs copy"><i class="cj" style="width:9.9px">版</i><i class="cj" style="width:9.9px">权</i><i class="cj" style="width:9.9px">所</i><i class="cj" style="width:9.9px">有</i>,<i class="cj" style="width:9.9px">侵</i><i class="cj" style="width:9.9px">权</i><i class="cj" style="width:9.9px">必</i><i class="cj" style="width:9.9px">究</i></div>
<svg id="wm" width="750" height="1035" viewBox="0 0 750 1035" fill="rgb(237,237,237)" fill-opacity="0.6" style="pointer-events:none">
<g transform="translate(110,265) rotate(-15)"><text x="0" y="12" text-anchor="middle" font-family="Liberation Sans" font-weight="bold" font-size="34">CCLair</text><text x="59.5" y="-17" font-family="Liberation Sans" font-size="13">&#174;</text></g>
<g transform="translate(320,205) rotate(-15)"><text x="0" y="12" text-anchor="middle" font-family="Liberation Sans" font-weight="bold" font-size="34">CCLair</text><text x="59.5" y="-17" font-family="Liberation Sans" font-size="13">&#174;</text></g>
<g transform="translate(527,155) rotate(-15)"><text x="0" y="12" text-anchor="middle" font-family="Liberation Sans" font-weight="bold" font-size="34">CCLair</text><text x="59.5" y="-17" font-family="Liberation Sans" font-size="13">&#174;</text></g>
<g transform="translate(733,97) rotate(-15)"><text x="0" y="12" text-anchor="middle" font-family="Liberation Sans" font-weight="bold" font-size="34">CCLair</text><text x="59.5" y="-17" font-family="Liberation Sans" font-size="13">&#174;</text></g>
<g transform="translate(45,397) rotate(-15)"><text x="0" y="12" text-anchor="middle" font-family="Liberation Sans" font-weight="bold" font-size="34">CCLair</text><text x="59.5" y="-17" font-family="Liberation Sans" font-size="13">&#174;</text></g>
<g transform="translate(233,342) rotate(-15)"><text x="0" y="12" text-anchor="middle" font-family="Liberation Sans" font-weight="bold" font-size="34">CCLair</text><text x="59.5" y="-17" font-family="Liberation Sans" font-size="13">&#174;</text></g>
<g transform="translate(440,292) rotate(-15)"><text x="0" y="12" text-anchor="middle" font-family="Liberation Sans" font-weight="bold" font-size="34">CCLair</text><text x="59.5" y="-17" font-family="Liberation Sans" font-size="13">&#174;</text></g>
<g transform="translate(649,237) rotate(-15)"><text x="0" y="12" text-anchor="middle" font-family="Liberation Sans" font-weight="bold" font-size="34">CCLair</text><text x="59.5" y="-17" font-family="Liberation Sans" font-size="13">&#174;</text></g>
<g transform="translate(170,478) rotate(-15)"><text x="0" y="12" text-anchor="middle" font-family="Liberation Sans" font-weight="bold" font-size="34">CCLair</text><text x="59.5" y="-17" font-family="Liberation Sans" font-size="13">&#174;</text></g>
<g transform="translate(356,419) rotate(-15)"><text x="0" y="12" text-anchor="middle" font-family="Liberation Sans" font-weight="bold" font-size="34">CCLair</text><text x="59.5" y="-17" font-family="Liberation Sans" font-size="13">&#174;</text></g>
<g transform="translate(588,368) rotate(-15)"><text x="0" y="12" text-anchor="middle" font-family="Liberation Sans" font-weight="bold" font-size="34">CCLair</text><text x="59.5" y="-17" font-family="Liberation Sans" font-size="13">&#174;</text></g>
<g transform="translate(95,615) rotate(-15)"><text x="0" y="12" text-anchor="middle" font-family="Liberation Sans" font-weight="bold" font-size="34">CCLair</text><text x="59.5" y="-17" font-family="Liberation Sans" font-size="13">&#174;</text></g>
<g transform="translate(293,565) rotate(-15)"><text x="0" y="12" text-anchor="middle" font-family="Liberation Sans" font-weight="bold" font-size="34">CCLair</text><text x="59.5" y="-17" font-family="Liberation Sans" font-size="13">&#174;</text></g>
<g transform="translate(497,515) rotate(-15)"><text x="0" y="12" text-anchor="middle" font-family="Liberation Sans" font-weight="bold" font-size="34">CCLair</text><text x="59.5" y="-17" font-family="Liberation Sans" font-size="13">&#174;</text></g>
<g transform="translate(705,450) rotate(-15)"><text x="0" y="12" text-anchor="middle" font-family="Liberation Sans" font-weight="bold" font-size="34">CCLair</text><text x="59.5" y="-17" font-family="Liberation Sans" font-size="13">&#174;</text></g>
<g transform="translate(225,692) rotate(-15)"><text x="0" y="12" text-anchor="middle" font-family="Liberation Sans" font-weight="bold" font-size="34">CCLair</text><text x="59.5" y="-17" font-family="Liberation Sans" font-size="13">&#174;</text></g>
<g transform="translate(446,637) rotate(-15)"><text x="0" y="12" text-anchor="middle" font-family="Liberation Sans" font-weight="bold" font-size="34">CCLair</text><text x="59.5" y="-17" font-family="Liberation Sans" font-size="13">&#174;</text></g>
<g transform="translate(642,585) rotate(-15)"><text x="0" y="12" text-anchor="middle" font-family="Liberation Sans" font-weight="bold" font-size="34">CCLair</text><text x="59.5" y="-17" font-family="Liberation Sans" font-size="13">&#174;</text></g>
<g transform="translate(30,750) rotate(-15)"><text x="0" y="12" text-anchor="middle" font-family="Liberation Sans" font-weight="bold" font-size="34">CCLair</text><text x="59.5" y="-17" font-family="Liberation Sans" font-size="13">&#174;</text></g>
<g transform="translate(350,775) rotate(-15)"><text x="0" y="12" text-anchor="middle" font-family="Liberation Sans" font-weight="bold" font-size="34">CCLair</text><text x="59.5" y="-17" font-family="Liberation Sans" font-size="13">&#174;</text></g>
<g transform="translate(560,723) rotate(-15)"><text x="0" y="12" text-anchor="middle" font-family="Liberation Sans" font-weight="bold" font-size="34">CCLair</text><text x="59.5" y="-17" font-family="Liberation Sans" font-size="13">&#174;</text></g>
<g transform="translate(760,670) rotate(-15)"><text x="0" y="12" text-anchor="middle" font-family="Liberation Sans" font-weight="bold" font-size="34">CCLair</text><text x="59.5" y="-17" font-family="Liberation Sans" font-size="13">&#174;</text></g>
<g transform="translate(150,830) rotate(-15)"><text x="0" y="12" text-anchor="middle" font-family="Liberation Sans" font-weight="bold" font-size="34">CCLair</text><text x="59.5" y="-17" font-family="Liberation Sans" font-size="13">&#174;</text></g>
<g transform="translate(700,795) rotate(-15)"><text x="0" y="12" text-anchor="middle" font-family="Liberation Sans" font-weight="bold" font-size="34">CCLair</text><text x="59.5" y="-17" font-family="Liberation Sans" font-size="13">&#174;</text></g>
<g transform="translate(285,915) rotate(-15)"><text x="0" y="12" text-anchor="middle" font-family="Liberation Sans" font-weight="bold" font-size="34">CCLair</text><text x="59.5" y="-17" font-family="Liberation Sans" font-size="13">&#174;</text></g>
<g transform="translate(490,858) rotate(-15)"><text x="0" y="12" text-anchor="middle" font-family="Liberation Sans" font-weight="bold" font-size="34">CCLair</text><text x="59.5" y="-17" font-family="Liberation Sans" font-size="13">&#174;</text></g>
<g transform="translate(80,960) rotate(-15)"><text x="0" y="12" text-anchor="middle" font-family="Liberation Sans" font-weight="bold" font-size="34">CCLair</text><text x="59.5" y="-17" font-family="Liberation Sans" font-size="13">&#174;</text></g>
<g transform="translate(612,941) rotate(-15)"><text x="0" y="12" text-anchor="middle" font-family="Liberation Sans" font-weight="bold" font-size="34">CCLair</text><text x="59.5" y="-17" font-family="Liberation Sans" font-size="13">&#174;</text></g>
<g transform="translate(404,997) rotate(-15)"><text x="0" y="12" text-anchor="middle" font-family="Liberation Sans" font-weight="bold" font-size="34">CCLair</text><text x="59.5" y="-17" font-family="Liberation Sans" font-size="13">&#174;</text></g>
<g transform="translate(225,1052) rotate(-15)"><text x="0" y="12" text-anchor="middle" font-family="Liberation Sans" font-weight="bold" font-size="34">CCLair</text><text x="59.5" y="-17" font-family="Liberation Sans" font-size="13">&#174;</text></g>
</svg>
</body></html>
